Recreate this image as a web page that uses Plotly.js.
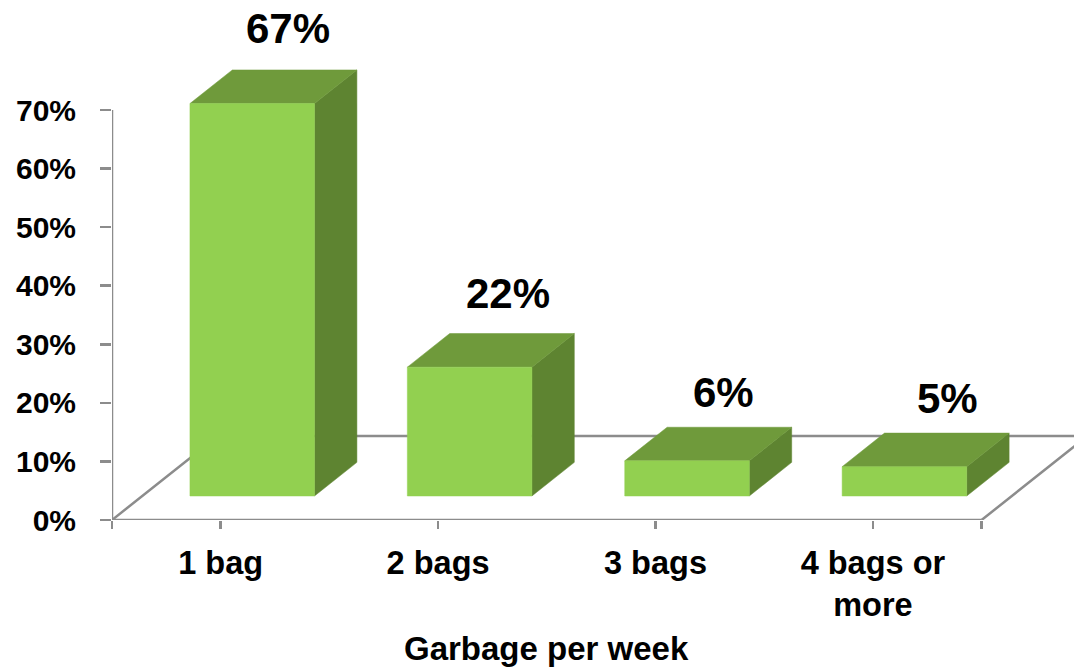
<!DOCTYPE html>
<html>
<head>
<meta charset="utf-8">
<script src="https://cdn.plot.ly/plotly-3.0.1.min.js"></script>
<style>html,body{margin:0;padding:0;background:#fff}</style>
</head>
<body>
<div id="chart" style="width:1074px;height:668px"></div>
<script>
const categories = ["1 bag", "2 bags", "3 bags", "4 bags or<br>more"];
const shares = [67, 22, 6, 5];
const yTicks = [0, 10, 20, 30, 40, 50, 60, 70];
const xTitle = "Garbage per week";

// Oblique projection constants, in axis units
const slot = {width: 0.573, shift: 0.145, lift: 4.1, dx: 0.195, dy: 5.74};
const floorDepth = {dx: 0.487, dy: 14.34};
const colors = {front: "#92D050", top: "#6F9A3B", side: "#5E8431", axis: "#8C8C8C"};
const labelOffset = {dx: [15, 17, 15, 22], dy: [41, 40, 35, 35]};
const font = "'Liberation Sans', Arial, sans-serif";

function poly(xs, ys, color) {
  return {type: "scatter", mode: "lines", x: xs.concat(xs[0]), y: ys.concat(ys[0]),
    fill: "toself", fillcolor: color, line: {color: color, width: 0.5},
    hoverinfo: "skip", showlegend: false, cliponaxis: false};
}
function line(xs, ys) {
  return {type: "scatter", mode: "lines", x: xs, y: ys,
    line: {color: colors.axis, width: 2.5}, hoverinfo: "skip", showlegend: false, cliponaxis: false};
}

const traces = [
  line([0, 0], [0, 70]),
  line([0, 4], [0, 0]),
  line([0, floorDepth.dx, 4 + floorDepth.dx, 4], [0, floorDepth.dy, floorDepth.dy, 0])
];
const annotations = [];
shares.forEach((v, i) => {
  const x0 = i + 0.5 + slot.shift - slot.width / 2, x1 = x0 + slot.width;
  const y0 = slot.lift, y1 = slot.lift + v;
  traces.push(poly([x1, x1 + slot.dx, x1 + slot.dx, x1], [y0, y0 + slot.dy, y1 + slot.dy, y1], colors.side));
  traces.push(poly([x0, x1, x1 + slot.dx, x0 + slot.dx], [y1, y1, y1 + slot.dy, y1 + slot.dy], colors.top));
  traces.push(poly([x0, x1, x1, x0], [y0, y0, y1, y1], colors.front));
  annotations.push({
    x: (x0 + x1) / 2 + slot.dx / 2, y: y1 + slot.dy, xref: "x", yref: "y",
    text: v + "%", showarrow: false, xanchor: "center", yanchor: "middle",
    xshift: labelOffset.dx[i], yshift: labelOffset.dy[i],
    font: {family: font, size: 42, color: "#000", weight: "bold"}
  });
});
// Axis title: centred under the front floor edge, not under the whole plot area
annotations.push({
  x: 2, y: 0, xref: "x", yref: "paper", text: xTitle, showarrow: false,
  xanchor: "center", yanchor: "middle", yshift: -128,
  font: {family: font, size: 33, color: "#000", weight: "bold"}
});

const layout = {
  width: 1074, height: 668,
  margin: {l: 111.5, r: 0, t: 0, b: 148, pad: 0},
  paper_bgcolor: "#fff", plot_bgcolor: "rgba(0,0,0,0)",
  showlegend: false, hovermode: false,
  annotations: annotations,
  xaxis: {
    type: "linear", range: [0, 4.425], showgrid: false, zeroline: false, showline: false,
    ticks: "outside", ticklen: 8, tickcolor: colors.axis, tickwidth: 2.5,
    tickmode: "array",
    tickvals: [0, 0.5, 1.5, 2.5, 3.5, 4],
    ticktext: [""].concat(categories, [""]),
    ticklabelstandoff: 6,
    tickfont: {family: font, size: 32.5, color: "#000", weight: "bold"}
  },
  yaxis: {
    range: [0, 88.78], showgrid: false, zeroline: false, showline: false,
    ticks: "outside", ticklen: 11, tickcolor: colors.axis, tickwidth: 2.5,
    tickmode: "array", tickvals: yTicks, ticktext: yTicks.map(t => t + "%"),
    ticklabelstandoff: 18,
    tickfont: {family: font, size: 30, color: "#000", weight: "bold"}
  }
};

Plotly.newPlot("chart", traces, layout, {displayModeBar: false, staticPlot: true});
</script>
</body>
</html>
